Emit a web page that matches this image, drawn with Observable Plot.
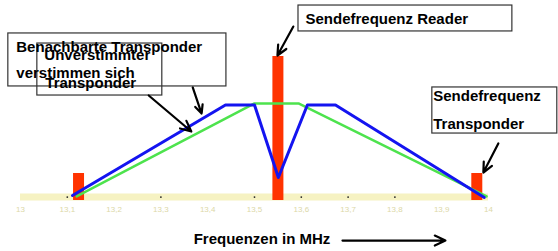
<!DOCTYPE html>
<html><head><meta charset="utf-8">
<script src="https://cdn.jsdelivr.net/npm/d3@7"></script>
<script src="https://cdn.jsdelivr.net/npm/@observablehq/plot@0.6"></script>
<style>body{margin:0;background:#fff;}</style>
</head><body><div id="chart"></div>
<script>
// x ticks (MHz)
const tickValues = [13, 13.1, 13.2, 13.3, 13.4, 13.5, 13.6, 13.7, 13.8, 13.9, 14];
const tickLabels = ["13", "13,1", "13,2", "13,3", "13,4", "13,5", "13,6", "13,7", "13,8", "13,9", "14"];
const tickDotFreq = [13.1, 13.3, 13.5, 13.6, 13.7, 13.8];

// carriers (bars)
const barFreq = [13.124, 13.550, 13.975];
const barLevel = [18.75, 100, 18.75];

// blue: neighbouring transponders detune each other
const blueFreq = [13.111, 13.438, 13.500, 13.551, 13.613, 13.673, 13.991];
const blueLevel = [3.5, 66.3, 66.3, 16.0, 66.3, 66.3, 2.1];

// green: undetuned transponder
const greenFreq = [13.120, 13.500, 13.594, 13.996];
const greenLevel = [2.8, 67.4, 67.4, 2.8];

// annotation boxes
const boxX1 = [13.594, 13.880, 12.974, 13.036];
const boxX2 = [14.051, 14.147, 13.440, 13.303];
const boxY1 = [135.4, 78.5, 116.0, 109.0];
const boxY2 = [117.4, 46.5, 79.2, 72.9];

// annotation texts
const noteText = ["Sendefrequenz Reader", "Sendefrequenz", "Transponder", "Benachbarte Transponder", "verstimmen sich", "Unverstimmter", "Transponder"];
const noteFreq = [13.609, 13.882, 13.882, 12.991, 12.991, 13.051, 13.053];
const noteLevel = [125.7, 72.2, 52.8, 106.3, 88.2, 100.7, 81.3];

// annotation arrows
const arrX1 = [13.583, 14.021, 13.368, 13.274, 13.688];
const arrY1 = [120.8, 39.6, 78.5, 72.9, -27.8];
const arrX2 = [13.549, 13.989, 13.387, 13.365, 13.908];
const arrY2 = [100.7, 19.4, 60.4, 47.9, -27.8];

const axisTitle = "Frequenzen in MHz";
const axisTitleFreq = 13.370;
const axisTitleLevel = -27.1;

const bars = barFreq.map((f, i) => ({f, v: barLevel[i]}));
const blue = blueFreq.map((f, i) => ({f, v: blueLevel[i]}));
const green = greenFreq.map((f, i) => ({f, v: greenLevel[i]}));
const boxes = boxX1.map((x, i) => ({x1: x, x2: boxX2[i], y1: boxY1[i], y2: boxY2[i]}));
const notes = noteText.map((t, i) => ({t, f: noteFreq[i], v: noteLevel[i]}));
const arrows = arrX1.map((x, i) => ({x1: x, y1: arrY1[i], x2: arrX2[i], y2: arrY2[i]}));
const tickDots = tickDotFreq.map(f => ({f}));

const fmt = d => {
  const i = tickValues.findIndex(t => Math.abs(t - d) < 1e-9);
  return i >= 0 ? tickLabels[i] : "";
};

const chart = Plot.plot({
  width: 558,
  height: 251,
  marginLeft: 20,
  marginRight: 70,
  marginTop: 56,
  marginBottom: 51,
  style: {fontFamily: "'Liberation Sans', Arial, sans-serif", background: "#fff", color: "#dcd8a8", fontSize: "8px"},
  x: {domain: [13, 14], ticks: tickValues, tickFormat: fmt, tickSize: 0, tickPadding: 6, label: null},
  y: {domain: [0, 100], axis: null},
  marks: [
    Plot.ruleY([0], {stroke: "#f6f2c2", strokeWidth: 7, dy: -3.5}),
    Plot.dot(tickDots, {x: "f", y: 2.4, r: 0.9, fill: "#222", stroke: "none"}),
    Plot.ruleX(bars, {x: "f", y1: 0, y2: "v", stroke: "#ff3300", strokeWidth: 11}),
    Plot.line(green, {x: "f", y: "v", stroke: "#4de34d", strokeWidth: 2.5}),
    Plot.line(blue, {x: "f", y: "v", stroke: "#1414f0", strokeWidth: 3}),
    Plot.rect(boxes, {x1: "x1", x2: "x2", y1: "y1", y2: "y2", fill: "none", stroke: "#333", strokeWidth: 1.2}),
    Plot.text(notes, {x: "f", y: "v", text: "t", textAnchor: "start", lineAnchor: "middle", fontSize: 15, fontWeight: "bold", fill: "#000"}),
    Plot.arrow(arrows, {x1: "x1", y1: "y1", x2: "x2", y2: "y2", stroke: "#000", strokeWidth: 2.2, headLength: 8, headAngle: 50}),
    Plot.text([axisTitle], {x: axisTitleFreq, y: axisTitleLevel, text: d => d, textAnchor: "start", lineAnchor: "middle", fontSize: 15, fontWeight: "bold", fill: "#000"})
  ]
});
document.getElementById("chart").appendChild(chart);
</script>
</body></html>
